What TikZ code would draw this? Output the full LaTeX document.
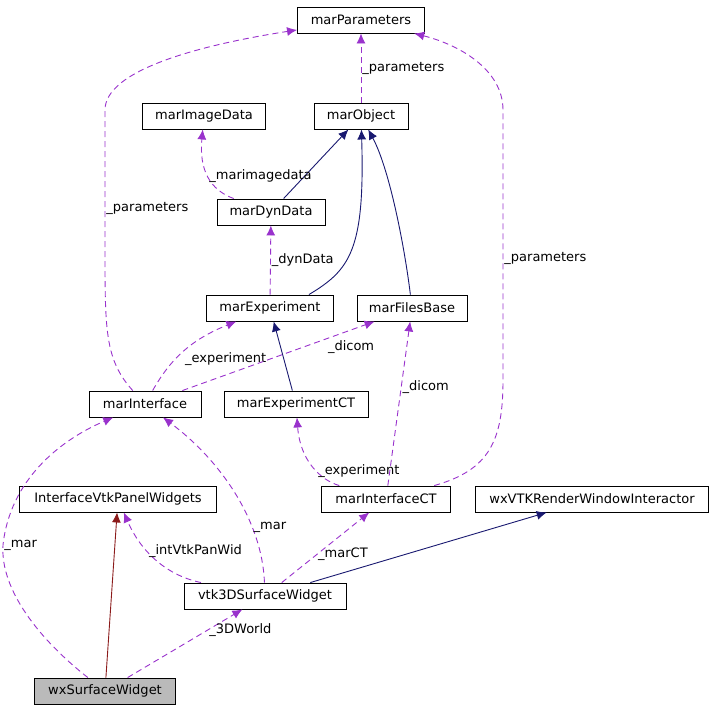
\documentclass[tikz,border=0pt]{standalone}
\usepackage{fontspec}
\setmainfont{DejaVu Sans}
\usetikzlibrary{arrows.meta}
\definecolor{dashcol}{RGB}{153,50,204}
\definecolor{inhcol}{RGB}{25,25,112}
\definecolor{redcol}{RGB}{139,26,26}
\begin{document}
\begin{tikzpicture}[x=1pt,y=-1pt,line width=0.9pt,
    every node/.style={font=\fontsize{13}{15}\selectfont},
    cls/.style={draw=black,fill=white,minimum height=26pt,inner xsep=5pt},
    use/.style={draw=dashcol,dash pattern=on 6pt off 4pt,-{Latex[length=10pt,width=9pt]},fill=none},
    inh/.style={draw=inhcol,-{Latex[length=10pt,width=9pt]}},
    lbl/.style={fill=none,inner sep=1pt}]
  \useasboundingbox (0,0) rectangle (715,712);
  \begin{scope}[every node/.append style={cls}]
    \node[minimum width=127pt] (P)   at (361,20)  {marParameters};
    \node[minimum width=94pt]  (O)   at (361,116) {marObject};
    \node[minimum width=123pt] (I)   at (204,116) {marImageData};
    \node[minimum width=108pt] (D)   at (271,212) {marDynData};
    \node[minimum width=127pt] (E)   at (270,308) {marExperiment};
    \node[minimum width=110pt] (F)   at (412,308) {marFilesBase};
    \node[minimum width=112pt] (M)   at (145,404) {marInterface};
    \node[minimum width=144pt] (ECT) at (296,404) {marExperimentCT};
    \node[minimum width=197pt] (W)   at (118,499) {InterfaceVtkPanelWidgets};
    \node[minimum width=129pt] (MCT) at (386,499) {marInterfaceCT};
    \node[minimum width=233pt] (R)   at (592,499) {wxVTKRenderWindowInteractor};
    \node[minimum width=162pt] (V)   at (265,596) {vtk3DSurfaceWidget};
    \node[minimum width=141pt,fill=black!27] (S) at (105,691) {wxSurfaceWidget};
  \end{scope}
  % inheritance
  \draw[inh] (D) -- (O);
  \draw[inh] (E.north east) ++(-25,0) .. controls (350,270) and (365,250) .. (O);
  \draw[inh] (F) .. controls (405,250) and (390,170) .. (O);
  \draw[inh] (ECT) -- (E);
  \draw[inh] (V) -- (R);
  \draw[draw=redcol,-{Latex[length=10pt,width=9pt]}] (S) -- (W);
  % usage
  \draw[use] (O) -- node[lbl,right] {\_parameters} (P);
  \draw[use] (D) .. controls (210,190) and (199,170) .. node[lbl,right,pos=0.5] {\_marimagedata} (I);
  \draw[use] (E) -- node[lbl,right] {\_dynData} (D);
  \draw[use] (M) .. controls (170,360) and (190,340) .. node[lbl,below right,pos=0.5] {\_experiment} (E);
  \draw[use] (M) -- node[lbl,below right,pos=0.75] {\_dicom} (F);
  \draw[use] (M) .. controls (105,360) and (105,330) .. (105,250)
     -- node[lbl,right,pos=0.3] {\_parameters} (105,110) .. controls (105,70) and (200,45) .. (P);
  \draw[use] (MCT) .. controls (490,470) and (503,440) .. (503,380)
     -- node[lbl,right,pos=0.45] {\_parameters} (503,110) .. controls (503,70) and (460,45) .. (P);
  \draw[use] (MCT) -- node[lbl,right,pos=0.6] {\_dicom} (F);
  \draw[use] (MCT) .. controls (320,480) and (300,460) .. node[lbl,right,pos=0.4] {\_experiment} (ECT);
  \draw[use] (V) .. controls (262,520) and (220,460) .. node[lbl,right,pos=0.3] {\_mar} (M);
  \draw[use] (V) -- node[lbl,right,pos=0.4] {\_marCT} (MCT);
  \draw[use] (V) .. controls (165,575) and (140,550) .. node[lbl,right,pos=0.6] {\_intVtkPanWid} (W);
  \draw[use] (S) .. controls (40,640) and (0,590) .. (3,545)
     .. controls (10,480) and (60,440) .. node[lbl,right,pos=0.0] {\_mar} (M);
  \draw[use] (S) -- node[lbl,right,pos=0.7] {\_3DWorld} (V);
\end{tikzpicture}
\end{document}
